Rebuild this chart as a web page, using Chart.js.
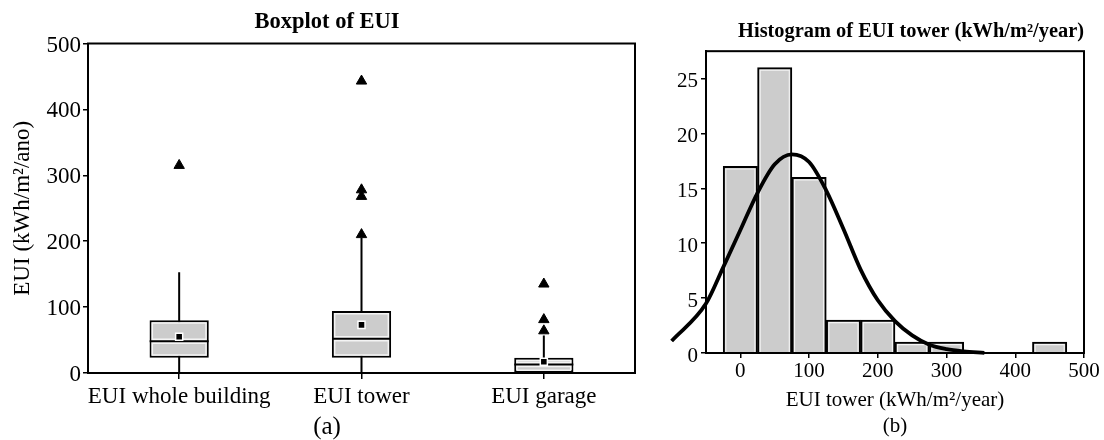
<!DOCTYPE html>
<html><head><meta charset="utf-8">
<script src="https://cdn.jsdelivr.net/npm/chart.js@4.4.1/dist/chart.umd.min.js"></script>
<style>
html,body{margin:0;padding:0;background:#fff;}
#wrap{position:relative;width:1104px;height:440px;overflow:hidden;background:#fff;}
#ca{position:absolute;left:0;top:0;}
#cb{position:absolute;left:650px;top:0;}
</style></head><body>
<div id="wrap"><canvas id="ca" width="650" height="440"></canvas><canvas id="cb" width="454" height="440"></canvas></div>
<script>
// ---- (a) Boxplot data ----
const categories = ['EUI whole building', 'EUI tower', 'EUI garage'];
const q1 = [23, 23, 0];
const q3 = [80, 94, 23];
const medians = [48, 52, 13];
const means = [55, 73, 17];
const whiskerLow = [0, 0, 0];
const whiskerHigh = [153, 205, 57];
const outliersWhole = [315];
const outliersTower = [443, 278, 268, 210];
const outliersGarage = [135, 81, 64];
const boxYTicks = [0, 100, 200, 300, 400, 500];

// ---- (b) Histogram data ----
const binCenters = [0, 50, 100, 150, 200, 250, 300, 350, 400, 450];
const binCounts = [17, 26, 16, 3, 3, 1, 1, 0, 0, 1];
const curveX = [-100, -50, -25, 0, 25, 50, 75, 100, 125, 150, 175, 200, 225, 250, 275, 300, 325, 355];
const curveY = [1.1, 4.5, 7.8, 11.2, 14.6, 17.2, 18.1, 17.4, 14.8, 11.3, 7.6, 4.8, 2.9, 1.6, 0.75, 0.35, 0.15, 0.02];
const histXTicks = [0, 100, 200, 300, 400, 500];
const histYTicks = [0, 5, 10, 15, 20, 25];

Chart.defaults.font.family = "'Liberation Serif', 'Times New Roman', serif";
Chart.defaults.color = '#000';

const framePlugin = {
  id: 'frame',
  afterDatasetsDraw(chart) {
    const {ctx, chartArea: a} = chart;
    ctx.save();
    ctx.strokeStyle = '#000';
    ctx.lineWidth = 2;
    ctx.strokeRect(a.left, a.top, a.right - a.left, a.bottom - a.top);
    ctx.restore();
  }
};

const RIM = 3;        // value inset of the light rim inside each box
const HIST_RIM = 0.18; // count inset of the light rim inside each histogram bar
const outlierPoints = []
  .concat(outliersWhole.map(v => ({x: categories[0], y: v})))
  .concat(outliersTower.map(v => ({x: categories[1], y: v})))
  .concat(outliersGarage.map(v => ({x: categories[2], y: v})));

new Chart(document.getElementById('ca'), {
  type: 'bar',
  data: {
    labels: categories,
    datasets: [
      {label: 'Outliers', type: 'line', showLine: false, data: outlierPoints,
       pointStyle: 'triangle', pointRadius: 6, pointBackgroundColor: '#000', pointBorderColor: '#000', pointBorderWidth: 1, order: 1},
      {label: 'Mean', type: 'line', showLine: false, data: means,
       pointStyle: 'rect', pointRadius: 5, pointBackgroundColor: '#000', pointBorderColor: '#fff', pointBorderWidth: 1.5, order: 2},
      {label: 'Median', type: 'line', showLine: false, data: medians,
       pointStyle: 'line', pointRadius: 29.5, pointBorderColor: '#000', pointBorderWidth: 2, order: 3},
      {label: 'Median halo', type: 'line', showLine: false, data: medians,
       pointStyle: 'line', pointRadius: 27, pointBorderColor: '#f4f4f4', pointBorderWidth: 5.5, order: 4},
      {label: 'Box rim', data: categories.map((c, i) => [q1[i] + RIM, q3[i] - RIM]),
       backgroundColor: 'rgba(0,0,0,0)', borderColor: '#f4f4f4', borderWidth: 1.5, borderSkipped: false,
       grouped: false, categoryPercentage: 1, barPercentage: 0.303, order: 5},
      {label: 'Box', data: categories.map((c, i) => [q1[i], q3[i]]),
       backgroundColor: '#cccccc', borderColor: '#000', borderWidth: 2, borderSkipped: false,
       grouped: false, categoryPercentage: 1, barPercentage: 0.325, order: 6},
      {label: 'Whisker', data: categories.map((c, i) => [whiskerLow[i], whiskerHigh[i]]),
       backgroundColor: '#000', borderWidth: 0, grouped: false, categoryPercentage: 1, barPercentage: 0.011, maxBarThickness: 2, order: 7}
    ]
  },
  options: {
    responsive: false,
    animation: false,
    layout: {autoPadding: false, padding: {left: 19, right: 15, top: 0, bottom: 0}},
    plugins: {
      legend: {display: false},
      tooltip: {enabled: false},
      title: {display: true, text: 'Boxplot of EUI', font: {size: 22.5, weight: 'bold'}, padding: {top: 9, bottom: 7.5}},
      subtitle: {display: true, position: 'bottom', text: '(a)', font: {size: 25, lineHeight: 1}, padding: {top: 0, bottom: 0.5}}
    },
    scales: {
      x: {
        type: 'category', offset: true,
        grid: {display: true, drawOnChartArea: false, offset: false, color: '#000', lineWidth: 1.5, tickLength: 6},
        border: {display: true, color: '#000', width: 2},
        ticks: {font: {size: 23}, padding: 4, maxRotation: 0, minRotation: 0, autoSkip: false},
        afterFit(s) { s.height = 41.5; s.paddingLeft = 0; s.paddingRight = 0; }
      },
      y: {
        type: 'linear', min: 0, max: 500,
        afterBuildTicks(s) { s.ticks = boxYTicks.map(v => ({value: v})); },
        grid: {display: true, drawOnChartArea: false, color: '#000', lineWidth: 1.5, tickLength: 5},
        border: {display: true, color: '#000', width: 2},
        ticks: {font: {size: 23}, padding: 2, labelOffset: 2},
        title: {display: true, text: 'EUI (kWh/m²/ano)', font: {size: 23, lineHeight: 1}, padding: {top: -7.5, bottom: 0}},
        afterFit(s) { s.width = 69; }
      }
    }
  },
  plugins: [framePlugin]
});

new Chart(document.getElementById('cb'), {
  type: 'bar',
  data: {
    datasets: [
      {label: 'Normal', type: 'line', data: curveX.map((x, i) => ({x: x, y: curveY[i]})),
       borderColor: '#000', borderWidth: 3.8, pointRadius: 0, cubicInterpolationMode: 'monotone', clip: false, order: 0},
      {label: 'Rim', data: binCenters.map((x, i) => ({x: x, y: Math.max(0, binCounts[i] - HIST_RIM)})),
       backgroundColor: 'rgba(0,0,0,0)', borderColor: '#f4f4f4', borderWidth: 1.2, borderSkipped: 'start',
       grouped: false, categoryPercentage: 1, barPercentage: 0.885, order: 1},
      {label: 'Frequency', data: binCenters.map((x, i) => ({x: x, y: binCounts[i]})),
       backgroundColor: '#cccccc', borderColor: '#000', borderWidth: 2,
       grouped: false, categoryPercentage: 1, barPercentage: 1, order: 2}
    ]
  },
  options: {
    responsive: false,
    animation: false,
    layout: {autoPadding: false, padding: {left: 0, right: 20, top: 0, bottom: 0}},
    plugins: {
      legend: {display: false},
      tooltip: {enabled: false},
      title: {display: true, align: 'end', text: 'Histogram of EUI tower (kWh/m²/year)', font: {size: 20.4, weight: 'bold'}, padding: {top: 19, bottom: 7.7}}
    },
    scales: {
      x: {
        type: 'linear', min: -50, max: 500, offset: false,
        afterBuildTicks(s) { s.ticks = histXTicks.map(v => ({value: v})); },
        grid: {display: true, drawOnChartArea: false, offset: false, color: '#000', lineWidth: 1.5, tickLength: 5},
        border: {display: true, color: '#000', width: 2},
        ticks: {font: {size: 21}, padding: 1, maxRotation: 0, autoSkip: false},
        title: {display: true, text: ['EUI tower (kWh/m²/year)', '(b)'], font: {size: 21, lineHeight: 1.238}, padding: {top: 0, bottom: 1}},
        afterFit(s) { s.height = 87; s.paddingLeft = 0; s.paddingRight = 0; }
      },
      y: {
        type: 'linear', min: 0, max: 27.5,
        afterBuildTicks(s) { s.ticks = histYTicks.map(v => ({value: v})); },
        grid: {display: true, drawOnChartArea: false, color: '#000', lineWidth: 1.5, tickLength: 5},
        border: {display: true, color: '#000', width: 2},
        ticks: {font: {size: 21}, padding: 3, labelOffset: 3},
        afterFit(s) { s.width = 56; }
      }
    }
  },
  plugins: [framePlugin]
});
</script>
</body></html>
